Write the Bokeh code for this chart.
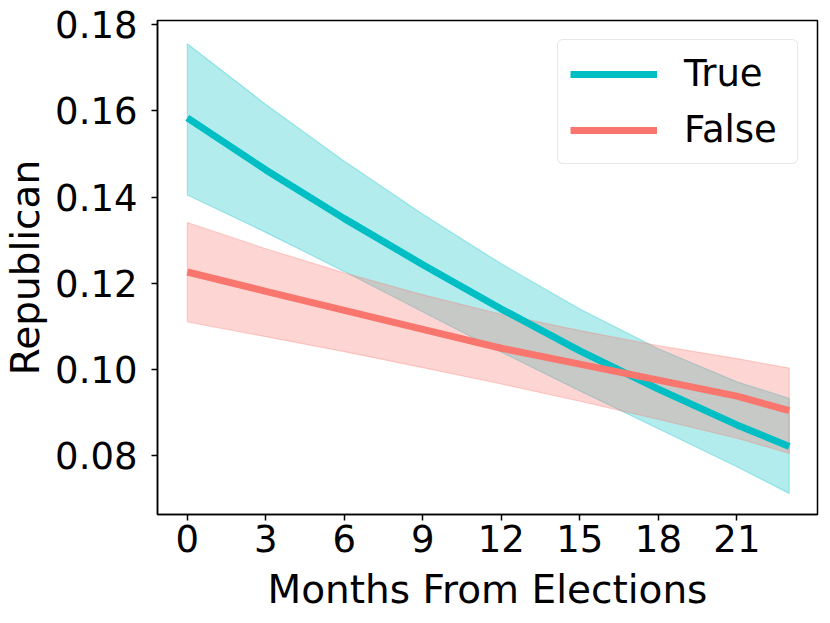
from bokeh.plotting import figure
from bokeh.models import ColumnDataSource, FixedTicker, Range1d, Legend, LegendItem
from bokeh.embed import file_html
from bokeh.resources import INLINE

# ---- data ----
months = [0, 3, 6, 9, 12, 15, 18, 21, 23]

true_mean  = [0.1584, 0.1463, 0.1350, 0.1243, 0.1140, 0.1043, 0.0954, 0.0871, 0.0821]
true_upper = [0.1756, 0.1615, 0.1483, 0.1360, 0.1245, 0.1140, 0.1048, 0.0971, 0.0933]
true_lower = [0.1405, 0.1318, 0.1227, 0.1133, 0.1040, 0.0950, 0.0862, 0.0774, 0.0712]

false_mean  = [0.1226, 0.1181, 0.1137, 0.1093, 0.1049, 0.1012, 0.0975, 0.0938, 0.0904]
false_upper = [0.1341, 0.1280, 0.1224, 0.1173, 0.1128, 0.1090, 0.1055, 0.1025, 0.1003]
false_lower = [0.1110, 0.1076, 0.1041, 0.1004, 0.0966, 0.0926, 0.0884, 0.0840, 0.0805]

x_ticks = [0, 3, 6, 9, 12, 15, 18, 21]
y_ticks = [0.08, 0.10, 0.12, 0.14, 0.16, 0.18]
y_tick_labels = ["0.08", "0.10", "0.12", "0.14", "0.16", "0.18"]

series_names = ["True", "False"]
TEAL = "#00BFC4"
SALMON = "#F8766D"
FONT = "DejaVu Sans"

p = figure(width=822, height=615, output_backend="svg", toolbar_location=None,
           x_range=Range1d(-1.14, 24.08), y_range=Range1d(0.0663, 0.1810),
           min_border_left=156, min_border_right=5, min_border_top=20, min_border_bottom=101)
p.background_fill_color = "white"
p.border_fill_color = "white"
p.grid.visible = False
p.outline_line_color = "black"
p.outline_line_width = 1.5

def band_source(upper, lower):
    xs = list(months) + list(months[::-1])
    ys = list(upper) + list(lower[::-1])
    return ColumnDataSource(dict(x=xs, y=ys))

p.patch("x", "y", source=band_source(true_upper, true_lower),
        fill_color=TEAL, fill_alpha=0.3, line_color=TEAL, line_alpha=0.3, line_width=1.2)
p.patch("x", "y", source=band_source(false_upper, false_lower),
        fill_color=SALMON, fill_alpha=0.3, line_color=SALMON, line_alpha=0.3, line_width=1.2)

src_true = ColumnDataSource(dict(x=months, y=true_mean))
src_false = ColumnDataSource(dict(x=months, y=false_mean))
r_true = p.line("x", "y", source=src_true, line_color=TEAL, line_width=7, line_join="round")
r_false = p.line("x", "y", source=src_false, line_color=SALMON, line_width=7, line_join="round")

# axes
p.xaxis.ticker = FixedTicker(ticks=x_ticks)
p.yaxis.ticker = FixedTicker(ticks=y_ticks)
p.yaxis.major_label_overrides = {t: l for t, l in zip(y_ticks, y_tick_labels)}
for ax in (p.xaxis[0], p.yaxis[0]):
    ax.axis_line_color = "black"
    ax.axis_line_width = 1.5
    ax.major_tick_line_color = "black"
    ax.major_tick_line_width = 1.5
    ax.major_tick_out = 6
    ax.major_tick_in = 0
    ax.minor_tick_line_color = None
    ax.major_label_text_font = FONT
    ax.major_label_text_font_size = "37px"
    ax.major_label_text_color = "black"
    ax.axis_label_text_font = FONT
    ax.axis_label_text_font_size = "39px"
    ax.axis_label_text_font_style = "normal"
    ax.axis_label_text_color = "black"

p.xaxis.major_label_standoff = 4
p.xaxis.axis_label_standoff = 12
p.yaxis.major_label_standoff = 14
p.yaxis.axis_label_standoff = 4

p.xaxis.axis_label = "Months From Elections"
p.yaxis.axis_label = "Republican"

legend = Legend(items=[LegendItem(label=series_names[0], renderers=[r_true]),
                       LegendItem(label=series_names[1], renderers=[r_false])],
                location="top_right")
legend.label_text_font = FONT
legend.label_text_font_size = "37px"
legend.label_text_color = "black"
legend.glyph_width = 87
legend.glyph_height = 42
legend.label_height = 42
legend.label_width = 101
legend.spacing = 13
legend.padding = 12
legend.label_standoff = 27
legend.margin = 19
legend.border_line_color = "#d0d0d0"
legend.border_line_width = 1.5
legend.background_fill_color = "white"
legend.background_fill_alpha = 0.8
try:
    legend.border_radius = 6
except Exception:
    pass
p.add_layout(legend, "center")

open("out.html", "w").write(file_html(p, INLINE))
